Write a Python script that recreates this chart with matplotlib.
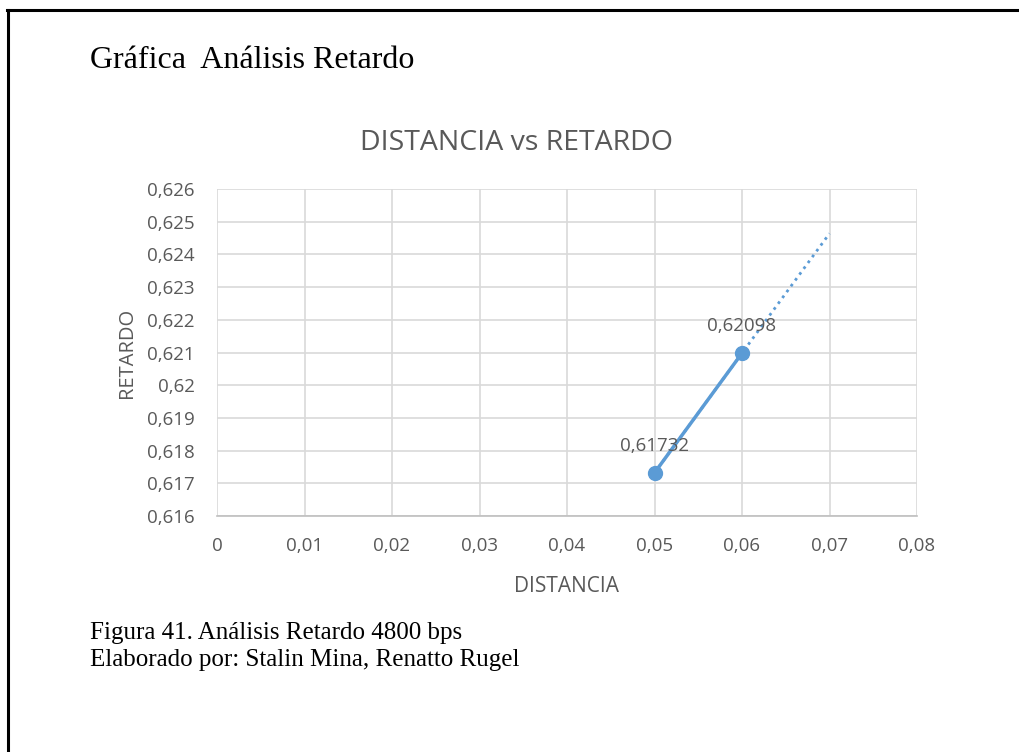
import numpy as np
import matplotlib.pyplot as plt
from matplotlib.lines import Line2D
from matplotlib.ticker import FuncFormatter

distancia = [0.05, 0.06]
retardo = [0.61732, 0.62098]
x_ticks = [0, 0.01, 0.02, 0.03, 0.04, 0.05, 0.06, 0.07, 0.08]
y_ticks = [0.616, 0.617, 0.618, 0.619, 0.620, 0.621, 0.622, 0.623, 0.624, 0.625, 0.626]
trend_end = 0.07

BLUE = '#5B9BD5'
GRID = '#D9D9D9'
TXT = '#595959'
SANS = 'Open Sans'
SERIF = 'Liberation Serif'
W, H = 1019, 752

fig = plt.figure(figsize=(W / 100, H / 100), dpi=100)
fig.patch.set_facecolor('white')

# page frame (top and left edges only)
fig.add_artist(Line2D([7 / W, 1.0], [1 - 10 / H, 1 - 10 / H], color='black', lw=2.2,
                      transform=fig.transFigure))
fig.add_artist(Line2D([8 / W, 8 / W], [0.0, 1 - 10 / H], color='black', lw=2.2,
                      transform=fig.transFigure))

fig.text(90 / W, 1 - 60 / H, 'Gráfica  Análisis Retardo', family=SERIF, fontsize=23,
         va='center', ha='left', color='black')
fig.text(90 / W, 1 - 633 / H, 'Figura 41. Análisis Retardo 4800 bps', family=SERIF,
         fontsize=18, va='center', ha='left', color='black')
fig.text(90 / W, 1 - 660 / H, 'Elaborado por: Stalin Mina, Renatto Rugel', family=SERIF,
         fontsize=18, va='center', ha='left', color='black')

fig.text(517 / W, 1 - 143 / H, 'DISTANCIA vs RETARDO', family=SANS, fontsize=20.5,
         color=TXT, ha='center', va='center')

ax = fig.add_axes([217 / W, 1 - 516 / H, 700 / W, 327 / H])

# linear trendline through the two points, extended forward
coef = np.polyfit(distancia, retardo, 1)
tx = np.array([distancia[0], trend_end])
ax.plot(tx, np.polyval(coef, tx), ls=(0, (1, 1.6)), color=BLUE, lw=2, zorder=2)

ax.plot(distancia, retardo, '-o', color=BLUE, lw=2.5, ms=10, zorder=3)
for x, y in zip(distancia, retardo):
    ax.annotate(f'{y:g}'.replace('.', ','), (x, y), xytext=(0, 27), textcoords='offset pixels',
                ha='center', va='center', fontsize=13.5, family=SANS, color=TXT)

ax.set_xlim(x_ticks[0], x_ticks[-1])
ax.set_ylim(y_ticks[0], y_ticks[-1])
ax.set_xticks(x_ticks)
ax.set_yticks(y_ticks)
fmt = FuncFormatter(lambda v, p: f'{round(v, 4):g}'.replace('.', ','))
ax.xaxis.set_major_formatter(fmt)
ax.yaxis.set_major_formatter(fmt)
ax.grid(True, color=GRID, lw=1.2)
ax.set_axisbelow(True)
for s in ['top', 'right', 'left']:
    ax.spines[s].set_visible(False)
ax.spines['bottom'].set_color('#BFBFBF')
ax.spines['bottom'].set_linewidth(1.2)
ax.tick_params(length=0, labelsize=13.5, labelcolor=TXT)
ax.tick_params(axis='y', pad=16)
ax.tick_params(axis='x', pad=15)
for lab in ax.get_xticklabels() + ax.get_yticklabels():
    lab.set_family(SANS)

ax.set_xlabel('DISTANCIA', family=SANS, fontsize=15, color=TXT, labelpad=15)
ax.set_ylabel('RETARDO', family=SANS, fontsize=14.5, color=TXT, labelpad=7)

fig.savefig('out.png', dpi=100)
